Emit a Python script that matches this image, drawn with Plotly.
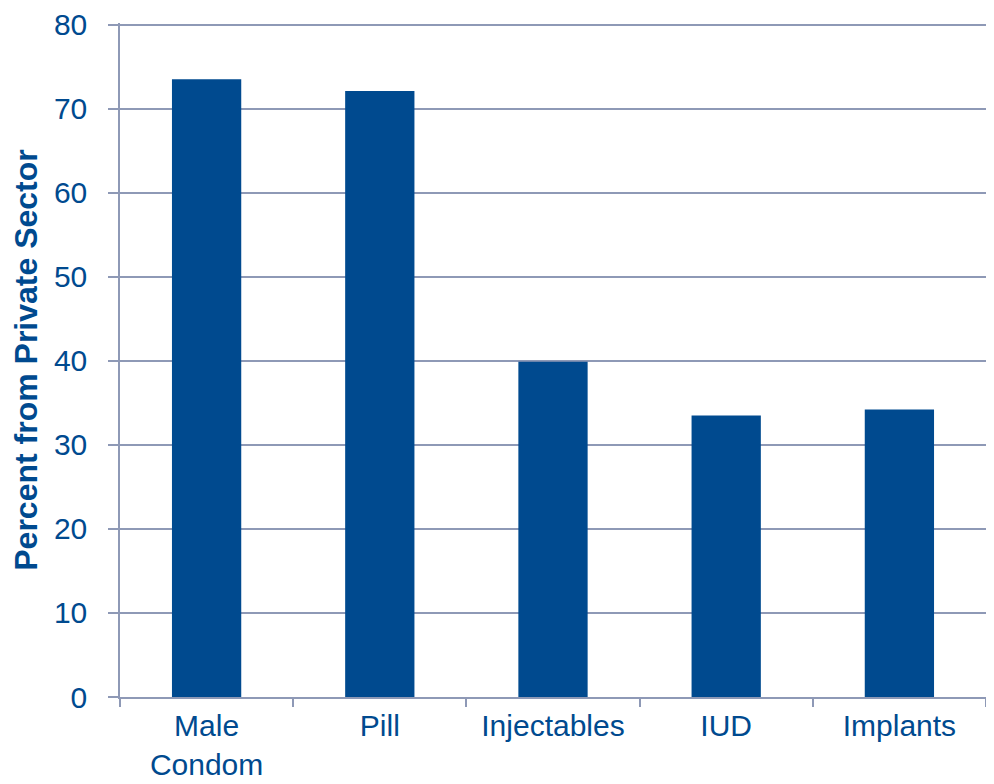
import plotly.graph_objects as go

categories = ["Male<br>Condom", "Pill", "Injectables", "IUD", "Implants"]
values = [73.5, 72.1, 39.9, 33.5, 34.2]
y_ticks = [0, 10, 20, 30, 40, 50, 60, 70, 80]

BLUE = "#004A8F"
GRID = "#8E99B6"

fig = go.Figure(go.Bar(x=categories, y=values, marker_color=BLUE, marker_line_width=0, width=0.4))

fig.update_layout(
    width=978, height=776,
    margin=dict(l=112, r=0, t=15, b=87),
    paper_bgcolor="white", plot_bgcolor="white",
    font=dict(family="Liberation Sans, Arial", size=30, color=BLUE),
    showlegend=False,
    bargap=0.6,
)
fig.update_yaxes(
    range=[0, 80.2], tickvals=y_ticks, showgrid=True, gridcolor=GRID, gridwidth=1.5,
    ticks="outside", ticklen=10, tickcolor=GRID, tickwidth=1.5,
    showline=True, linecolor=GRID, linewidth=1.5, zeroline=False, automargin=False,
    title=dict(text="<b>Percent from Private Sector</b>", font=dict(size=32, color=BLUE), standoff=8),
    tickfont=dict(size=30, color=BLUE), ticklabelstandoff=15, ticklabeloverflow="allow",
)
fig.update_xaxes(
    showline=True, linecolor=GRID, linewidth=1.5, automargin=False,
    ticks="outside", ticklen=8, tickcolor=GRID, tickwidth=1.5, tickson="boundaries",
    tickfont=dict(size=30, color=BLUE), ticklabelstandoff=1, ticklabeloverflow="allow",
)
fig.write_html("out.html")
